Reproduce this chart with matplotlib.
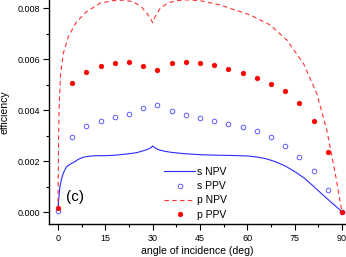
import matplotlib
matplotlib.use("Agg")
import matplotlib.pyplot as plt
from matplotlib.ticker import MultipleLocator, FormatStrFormatter

plt.rcParams['font.family'] = ['Liberation Sans', 'DejaVu Sans']

# angle of incidence (deg) for the discrete PPV points
ppv_angle = [0, 4.5, 9, 13.5, 18, 22.5, 27, 31.5, 36, 40.5, 45, 49.5, 54,
             58.5, 63, 67.5, 72, 76.5, 81, 85.5, 90]
# s PPV (open blue circles), units of 1e-3
s_ppv = [0.06, 2.96, 3.37, 3.58, 3.73, 3.87, 4.09, 4.21, 3.96, 3.80, 3.70,
         3.59, 3.47, 3.36, 3.18, 2.94, 2.61, 2.17, 1.62, 0.89, 0.02]
# p PPV (filled red dots), units of 1e-3
p_ppv = [0.17, 5.07, 5.51, 5.75, 5.87, 5.88, 5.73, 5.58, 5.86, 5.89, 5.85,
         5.76, 5.62, 5.47, 5.28, 5.04, 4.74, 4.29, 3.58, 2.35, 0.02]

# s NPV curve (solid blue)
s_npv_angle = [0, 0.2, 0.6, 1.3, 2, 2.75, 4, 5, 6.5, 8, 10, 12, 15, 18, 22,
               25, 28, 29.3, 30, 30.7, 32, 34, 36, 40, 45, 50, 55, 60, 63, 66,
               69, 72, 75, 78, 81, 84, 87, 90]
s_npv = [0.10, 0.48, 1.00, 1.40, 1.62, 1.79, 1.90, 1.96, 2.08, 2.16, 2.20,
         2.22, 2.22, 2.24, 2.29, 2.34, 2.45, 2.52, 2.60, 2.53, 2.45, 2.39,
         2.35, 2.30, 2.26, 2.24, 2.23, 2.21, 2.17, 2.10, 1.98, 1.82, 1.60,
         1.35, 1.02, 0.68, 0.35, 0.03]

# p NPV curve (dashed red)
p_npv_angle = [0, 0.1, 0.2, 0.4, 0.85, 1.7, 3.3, 5.9, 9.1, 13.3, 17.5, 21,
               24, 26.5, 28.2, 29.3, 30, 30.7, 32.4, 35, 37.6, 40.8, 45, 51.4,
               55, 60.9, 67.2, 72.5, 77.8, 82, 85.2, 88, 90]
p_npv = [0.10, 1.50, 3.00, 4.30, 5.45, 6.24, 6.89, 7.48, 7.87, 8.20, 8.30,
         8.32, 8.25, 8.05, 7.80, 7.60, 7.44, 7.65, 8.00, 8.22, 8.30, 8.33,
         8.30, 8.13, 7.98, 7.74, 7.35, 6.76, 5.84, 4.67, 3.23, 1.45, 0.02]

scale = 1e-3

fig = plt.figure(figsize=(3.46, 2.57), dpi=100)
ax = fig.add_axes([49/346, 1 - 224.3/257, 297/346, 224.3/257])

ax.plot(s_npv_angle, [v*scale for v in s_npv], color='#2b2bff', lw=0.8,
        label='s NPV')
ax.plot(ppv_angle, [v*scale for v in s_ppv], linestyle='none', marker='o',
        ms=3.3, mfc='none', mec='#5a5aff', mew=0.7, label='s PPV')
ax.plot(p_npv_angle, [v*scale for v in p_npv], color='#ff3030', lw=0.8,
        dashes=(4, 3), label='p NPV')
ax.plot(ppv_angle, [v*scale for v in p_ppv], linestyle='none', marker='o',
        ms=3.3, mfc='#ff0000', mec='#ff0000', mew=0.5, label='p PPV')

ax.set_xlim(-2.85, 91.3)
ax.set_ylim(-0.00047, 0.008325)
ax.xaxis.set_major_locator(MultipleLocator(15))
ax.xaxis.set_minor_locator(MultipleLocator(7.5))
ax.yaxis.set_major_locator(MultipleLocator(0.002))
ax.yaxis.set_minor_locator(MultipleLocator(0.001))
ax.yaxis.set_major_formatter(FormatStrFormatter('%.3f'))

for s in ['top', 'right']:
    ax.spines[s].set_visible(False)
for s in ['left', 'bottom']:
    ax.spines[s].set_linewidth(1.0)

ax.tick_params(which='major', direction='out', length=4, width=0.8,
               labelsize=6.5, pad=2.5)
ax.tick_params(which='minor', direction='out', length=2, width=0.8)
ax.tick_params(axis='x', which='major', pad=3)

ax.set_xlabel('angle of incidence (deg)', fontsize=7.6, labelpad=2)
ax.set_ylabel('efficiency', fontsize=7.6, labelpad=6)

ax.text(75/346, 1 - 197/257, '(c)', transform=fig.transFigure,
        fontsize=11, ha='center', va='center')

leg = ax.legend(loc='upper left', bbox_to_anchor=(164/346, 1 - 167/257),
                bbox_transform=fig.transFigure, frameon=False, fontsize=7.5,
                handlelength=3.0, handletextpad=0.15, labelspacing=0.4,
                borderpad=0, borderaxespad=0)

fig.savefig('out.png', dpi=100)
